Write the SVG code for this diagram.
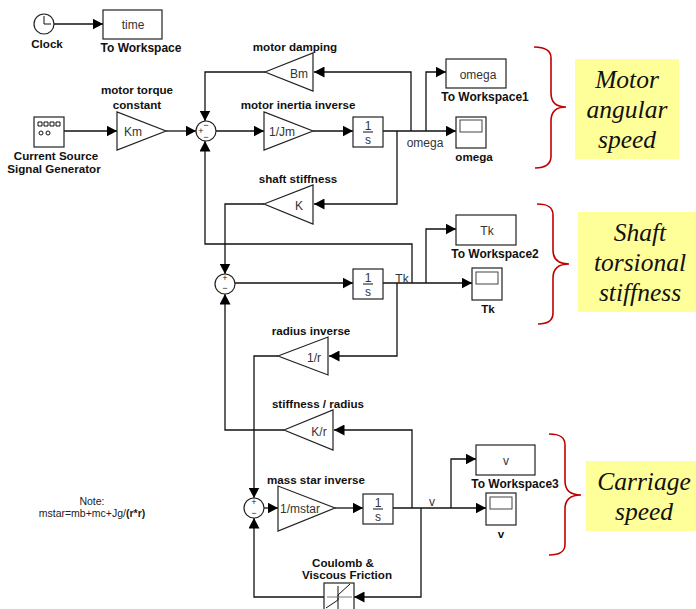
<svg xmlns="http://www.w3.org/2000/svg" width="696" height="609" viewBox="0 0 696 609">
<style>
text{font-family:"Liberation Sans",Arial,sans-serif}
.l{font-size:11.6px;font-weight:bold;fill:#111;text-anchor:middle}
.t{font-size:12px}
.b{font-size:12px;fill:#333;text-anchor:middle}
.s{font-size:9px;fill:#222;text-anchor:middle}
.big{font-family:"Liberation Serif","Times New Roman",serif;font-style:italic;font-size:25.5px;fill:#111;text-anchor:middle}
.box{fill:#fff;stroke:#222;stroke-width:1.2}
.in{fill:#fff;stroke:#444;stroke-width:1}
.w{fill:none;stroke:#111;stroke-width:1.3}
.g{fill:none;stroke:#111;stroke-width:1}
.br{fill:none;stroke:#c00000;stroke-width:1.6}
.y{fill:#ffff99;stroke:none}
</style>
<defs>
<marker id="a" markerUnits="userSpaceOnUse" markerWidth="11" markerHeight="11" refX="10.5" refY="5.5" orient="auto"><path d="M0 0L10.5 5.5L0 11Z" fill="#000"/></marker>
</defs>
<g id="connectors">
<path class="w" marker-end="url(#a)" d="M54 24H103"/>
<path class="w" marker-end="url(#a)" d="M64 131H117"/>
<path class="w" marker-end="url(#a)" d="M166 131H196"/>
<path class="w" marker-end="url(#a)" d="M265 72H205V121"/>
<path class="w" marker-end="url(#a)" d="M216 131H264"/>
<path class="w" marker-end="url(#a)" d="M313 131H353"/>
<path class="w" marker-end="url(#a)" d="M383 131H456"/>
<path class="w" marker-end="url(#a)" d="M426 131V72H446"/>
<path class="w" marker-end="url(#a)" d="M411 131V72H314"/>
<path class="w" marker-end="url(#a)" d="M397 131V204H314"/>
<path class="w" marker-end="url(#a)" d="M264 204H225V274"/>
<path class="w" marker-end="url(#a)" d="M412 283V244H205V141"/>
<path class="w" marker-end="url(#a)" d="M235 283H353"/>
<path class="w" marker-end="url(#a)" d="M383 283H472"/>
<path class="w" marker-end="url(#a)" d="M426 283V229H456"/>
<path class="w" marker-end="url(#a)" d="M397 283V356H329"/>
<path class="w" marker-end="url(#a)" d="M278 356H254V498"/>
<path class="w" marker-end="url(#a)" d="M412 508V430H334"/>
<path class="w" marker-end="url(#a)" d="M284 430H225V294"/>
<path class="w" marker-end="url(#a)" d="M264 508H278"/>
<path class="w" marker-end="url(#a)" d="M335 508H363"/>
<path class="w" marker-end="url(#a)" d="M393 508H486"/>
<path class="w" marker-end="url(#a)" d="M451 508V459H476"/>
<path class="w" marker-end="url(#a)" d="M421 508V597H354"/>
<path class="w" marker-end="url(#a)" d="M324 597H254V518"/>
</g>
<g id="clock"><circle class="box" cx="44" cy="24" r="10"/><path class="g" d="M44 16V24H51"/><text class="l" x="47" y="48">Clock</text></g>
<g id="time"><rect class="box" x="103" y="10" width="59" height="29"/><text class="b" x="133" y="29">time</text><text class="l t" x="141" y="52">To Workspace</text></g>
<g id="source"><rect class="box" x="34" y="117" width="30" height="30"/><path class="g" d="M38 122h4v4h-4zM44 122h4v4h-4zM50 122h4v4h-4zM56 122h4v4h-4z"/><circle class="g" cx="41" cy="133" r="2"/><circle class="g" cx="48" cy="133" r="2"/><text class="l" x="56" y="160">Current Source</text><text class="l" x="54" y="173">Signal Generator</text></g>
<g id="km"><path class="box" d="M117 112V150L166 131Z"/><text class="b" x="133" y="136">Km</text><text class="l" x="137" y="94">motor torque</text><text class="l" x="137" y="109">constant</text></g>
<g id="sum1"><circle class="box" cx="206" cy="131" r="10"/><text class="s" x="201" y="134">+</text><text class="s" x="206" y="128">−</text><text class="s" x="206" y="140">−</text></g>
<g id="bm"><path class="box" d="M265 72L313 53V91Z"/><text class="b" x="299" y="78">Bm</text><text class="l" x="295" y="51">motor damping</text></g>
<g id="jm"><path class="box" d="M264 112V150L313 131Z"/><text class="b" x="282" y="136">1/Jm</text><text class="l" x="298" y="109">motor inertia inverse</text></g>
<g id="int1"><rect class="box" x="353" y="117" width="30" height="30"/><path class="g" d="M363 132H373"/><text class="b" x="368" y="130">1</text><text class="b" x="368" y="144">s</text><text class="b" x="425" y="147">omega</text></g>
<g id="ws1"><rect class="box" x="446" y="59" width="60" height="29"/><text class="b" x="478" y="79">omega</text><text class="l t" x="485" y="101">To Workspace1</text></g>
<g id="scope1"><rect class="box" x="456" y="117" width="30" height="31"/><rect class="in" x="460" y="120" width="22" height="12"/><text class="l" x="474" y="161">omega</text></g>
<g id="k"><path class="box" d="M264 204L313 185V224Z"/><text class="b" x="299" y="210">K</text><text class="l" x="298" y="183">shaft stiffness</text></g>
<g id="sum2"><circle class="box" cx="225" cy="284" r="10"/><text class="s" x="225" y="281">+</text><text class="s" x="225" y="291">−</text></g>
<g id="int2"><rect class="box" x="353" y="269" width="30" height="30"/><path class="g" d="M363 284H373"/><text class="b" x="368" y="282">1</text><text class="b" x="368" y="296">s</text><text class="b" x="402" y="283">Tk</text></g>
<g id="ws2"><rect class="box" x="456" y="215" width="60" height="30"/><text class="b" x="487" y="235">Tk</text><text class="l t" x="495" y="258">To Workspace2</text></g>
<g id="scope2"><rect class="box" x="472" y="268" width="30" height="32"/><rect class="in" x="476" y="272" width="22" height="12"/><text class="l" x="488" y="313">Tk</text></g>
<g id="r"><path class="box" d="M278 356L328 337V375Z"/><text class="b" x="314" y="362">1/r</text><text class="l" x="311" y="335">radius inverse</text></g>
<g id="kr"><path class="box" d="M284 430L333 410V450Z"/><text class="b" x="319" y="436">K/r</text><text class="l" x="318" y="408">stiffness / radius</text></g>
<g id="sum3"><circle class="box" cx="254" cy="508" r="10"/><text class="s" x="254" y="505">+</text><text class="s" x="254" y="516">−</text></g>
<g id="mstar"><path class="box" d="M278 486V531L335 508Z"/><text class="b" x="300" y="513">1/mstar</text><text class="l" x="316" y="484">mass star inverse</text></g>
<g id="int3"><rect class="box" x="363" y="494" width="30" height="30"/><path class="g" d="M373 509H383"/><text class="b" x="378" y="507">1</text><text class="b" x="378" y="521">s</text><text class="b" x="432" y="506">v</text></g>
<g id="ws3"><rect class="box" x="476" y="445" width="59" height="30"/><text class="b" x="506" y="465">v</text><text class="l t" x="515" y="488">To Workspace3</text></g>
<g id="scope3"><rect class="box" x="486" y="493" width="30" height="32"/><rect class="in" x="490" y="497" width="22" height="12"/><text class="l" x="501" y="538">v</text></g>
<g id="friction"><rect class="box" x="324" y="583" width="30" height="30"/><path class="g" d="M326 608L338 600V595L350 584M338 586V609"/><path d="M327 597H352" fill="none" stroke="#777" stroke-width="1"/><text class="l" x="343" y="567">Coulomb &amp;</text><text class="l" x="347" y="579">Viscous Friction</text></g>
<g id="note"><text x="92" y="505" font-size="10.5" fill="#222" text-anchor="middle">Note:</text><text x="92" y="517" font-size="10.5" fill="#222" text-anchor="middle">mstar=mb+mc+Jg/<tspan font-weight="bold">(r*r)</tspan></text></g>
<g id="motor-note"><path class="br" d="M534 47C545 47 551 50 551 58V93C551 102 556 107 566 107C556 107 551 112 551 121V156C551 164 545 168 535 168"/><rect class="y" x="575" y="59" width="104" height="100"/><text class="big" x="627" y="88">Motor</text><text class="big" x="627" y="118">angular</text><text class="big" x="627" y="148">speed</text></g>
<g id="shaft-note"><path class="br" d="M537 204C548 204 553 207 553 215V250C553 259 558 264 569 264C558 264 553 269 553 278V313C553 321 548 324 538 324"/><rect class="y" x="578" y="212" width="118" height="100"/><text class="big" x="640" y="241">Shaft</text><text class="big" x="640" y="271">torsional</text><text class="big" x="640" y="301">stiffness</text></g>
<g id="carriage-note"><path class="br" d="M549 434C560 434 565 437 565 445V481C565 490 570 495 581 495C570 495 565 500 565 509V544C565 552 560 555 549 555"/><rect class="y" x="586" y="461" width="110" height="70"/><text class="big" x="644" y="490">Carriage</text><text class="big" x="644" y="520">speed</text></g>
</svg>
